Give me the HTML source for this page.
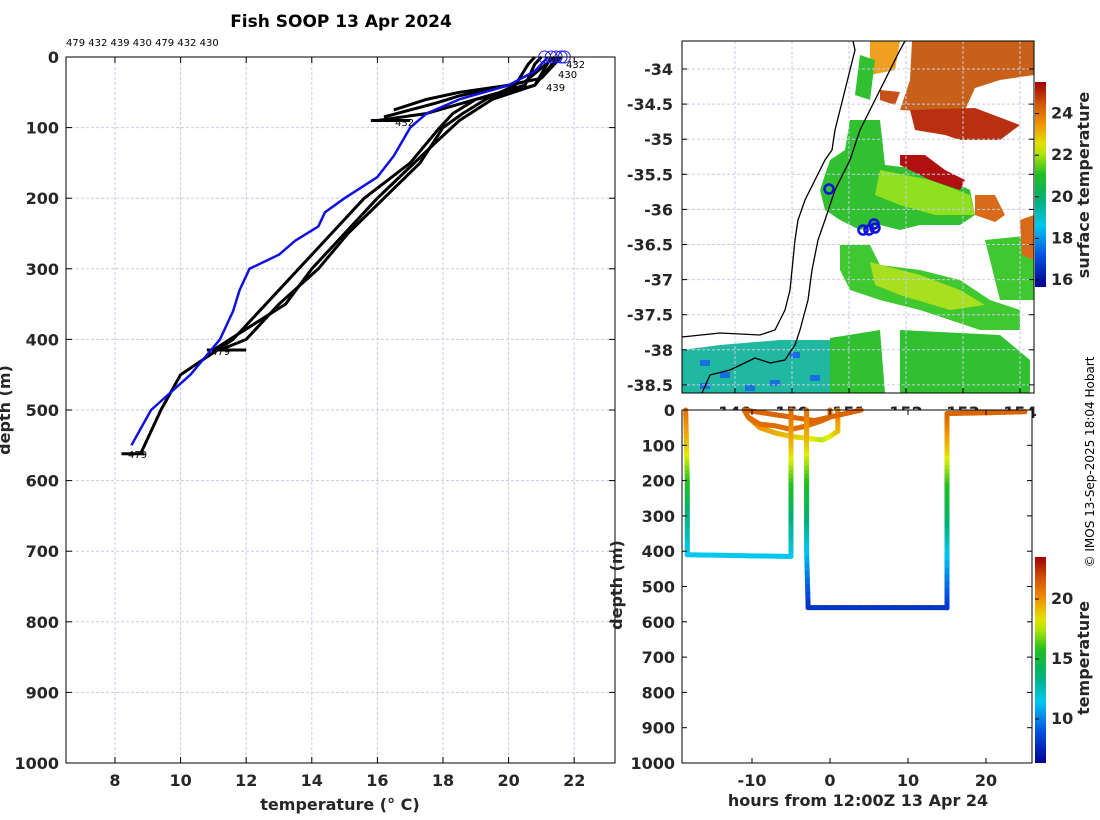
<!DOCTYPE html>
<html><head><meta charset="utf-8"><style>
body{margin:0;background:#fff}
svg{display:block;font-family:"DejaVu Sans","Liberation Sans",sans-serif}
.t{font-weight:bold;font-size:16px;fill:#262626}
.g{stroke:#c5cde6;stroke-width:1;stroke-dasharray:3,2}
</style></head><body>
<svg id="c" width="1100" height="820" viewBox="0 0 1100 820"></svg>
<script>
// ---------- data ----------
const tempTicks=[8,10,12,14,16,18,20,22];
const depthTicks=[0,100,200,300,400,500,600,700,800,900,1000];
const blueDepth=[0,20,40,60,80,100,140,170,200,220,240,260,280,300,330,360,400,450,500,550];
const blueTemp=[21.2,20.8,20,18.5,17.5,17,16.5,16,15,14.4,14.2,13.5,13,12.1,11.8,11.6,11.2,10.3,9.1,8.5];
const p1Depth=[0,10,40,60,80,100,150,200,250,300,350,400,450,500,560];
const p1Temp=[21,20.8,20.5,19,18.3,17.9,17,15.6,14.6,13.6,12.6,11.6,10,9.4,8.8];
const p2Depth=[0,40,60,90,120,200,250,300,350,400,415];
const p2Temp=[21.3,20.8,19.5,18.5,17.8,16,15,14,13.2,11.5,11];
const p3Depth=[0,40,50,60,80,90];
const p3Temp=[21.5,20.8,20,19,17.5,16];
const p4Depth=[0,30,40,50,60,75];
const p4Temp=[21.6,21,20,18.5,17.5,16.5];
const p5Depth=[0,35,45,55,65,75,85];
const p5Temp=[21.4,20.5,19.5,18.5,17.8,17,16.2];
const p6Depth=[0,10,40,60,80,100,150,200,250,300,350,400,415];
const p6Temp=[20.8,20.6,20.2,19.3,18.6,18,17.3,16.2,15.1,14.2,13,12,11.2];
const circTemp=[21.1,21.3,21.45,21.6,21.7];
const profLabels=["479","432","439","430","479","432","430"];
const hoursTicks=[-10,0,10,20];
const bDepthTicks=[0,100,200,300,400,500,600,700,800,900,1000];
const latTicks=[-34,-34.5,-35,-35.5,-36,-36.5,-37,-37.5,-38,-38.5];
const lonTicks=[149,150,151,152,153,154];
const sstTicks=[16,18,20,22,24];
const tcTicks=[10,15,20];
// track: hours, depth, temp
const trkA_h=[-18.5,-18.4,-18.3,-18.3,-18.3,-5,-5,-5,-5,-5,-5];
const trkA_d=[0,100,200,300,410,415,410,300,200,100,0];
const trkA_t=[21,19,16,13.5,11.5,11.5,11.5,13.5,16,19,21];
const trkB_h=[-3,-3,-3,-3,-3,-2.8,15,15,15,15,15,15,15,20,25];
const trkB_d=[0,100,200,300,400,560,560,560,400,300,200,100,10,8,5];
const trkB_t=[21,19,16,14,11.5,8,8,8,11.5,14,16,19,21.2,21.2,21.2];
const w1_h=[-11,-10.5,-9,-7,-5,-3,-1,0,0];
const w1_d=[0,20,40,45,55,45,30,20,0];
const w2_h=[-10.5,-9,-7,-5,-3,-1,0,1,1];
const w2_d=[20,50,65,75,80,85,75,60,0];
const w2_t=[20.5,20,19.5,19,18.5,17.5,18,19,20.5];
const w3_h=[-11,-8,-5,-2,0,2,3,4];
const w3_d=[0,10,20,30,20,10,5,0];

// ---------- helpers ----------
const S=document.getElementById('c');const NS='http://www.w3.org/2000/svg';
function el(t,a,p){const e=document.createElementNS(NS,t);for(const k in a)e.setAttribute(k,a[k]);(p||S).appendChild(e);return e;}
function txt(x,y,s,a,p){const e=el('text',Object.assign({x:x,y:y},a),p);e.textContent=s;return e;}
const CM=[[0,[0,0,143]],[0.15,[0,80,224]],[0.3,[0,200,240]],[0.42,[0,176,120]],[0.55,[32,192,32]],[0.68,[224,240,0]],[0.8,[240,144,0]],[0.9,[208,80,0]],[1,[160,0,0]]];
function jet(v){v=Math.max(0,Math.min(1,v));for(let i=0;i<CM.length-1;i++){const a=CM[i],b=CM[i+1];if(v<=b[0]){const f=(v-a[0])/(b[0]-a[0]);const c=a[1].map((x,k)=>Math.round(x+(b[1][k]-x)*f));return `rgb(${c[0]},${c[1]},${c[2]})`;}}return 'rgb(160,0,0)';}

// ---------- left profile plot ----------
const L={x0:66,x1:615,y0:57,y1:763};
const tx=t=>115+(t-8)*32.8, dy=d=>L.y0+d*(L.y1-L.y0)/1000;
let e=el('rect',{x:L.x0,y:L.y0,width:L.x1-L.x0,height:L.y1-L.y0,fill:'#fff'});

tempTicks.forEach(t=>{el('line',{x1:tx(t),x2:tx(t),y1:L.y0,y2:L.y1,class:'g'});
 el('line',{x1:tx(t),x2:tx(t),y1:L.y1,y2:L.y1-6,stroke:'#000'});el('line',{x1:tx(t),x2:tx(t),y1:L.y0,y2:L.y0+6,stroke:'#000'});
 e=txt(tx(t),786,t,{class:'t','text-anchor':'middle'});});
depthTicks.forEach(d=>{el('line',{x1:L.x0,x2:L.x1,y1:dy(d),y2:dy(d),class:'g'});
 el('line',{x1:L.x0,x2:L.x0+6,y1:dy(d),y2:dy(d),stroke:'#000'});el('line',{x1:L.x1,x2:L.x1-6,y1:dy(d),y2:dy(d),stroke:'#000'});
 e=txt(59,dy(d)+6,d,{class:'t','text-anchor':'end'});});
function prof(T,D,col,w,name){e=el('polyline',{points:T.map((t,i)=>tx(t)+','+dy(D[i])).join(' '),fill:'none',stroke:col,'stroke-width':w,'stroke-linejoin':'round'});
 }
prof(p1Temp,p1Depth,'#000',3,'profile-479');prof(p2Temp,p2Depth,'#000',3,'profile-432');
prof(p6Temp,p6Depth,'#000',3,'profile-439');prof(p3Temp,p3Depth,'#000',3,'profile-430');
prof(p4Temp,p4Depth,'#000',3,'profile-shallow-a');prof(p5Temp,p5Depth,'#000',3,'profile-shallow-b');
prof([8.2,8.9],[562,562],'#000',3,'profile-bottom-479');prof([10.8,12],[415,415],'#000',3,'profile-bottom-432');
prof([15.8,17],[90,90],'#000',3,'profile-bottom-430');
prof(blueTemp,blueDepth,'#1010e0',2.5,'profile-reference-blue');
circTemp.forEach(t=>{e=el('circle',{cx:tx(t),cy:dy(0),r:6,fill:'none',stroke:'#2020ff','stroke-width':1});});
[[211,355,'479'],[395,126,'432'],[128,458,'479'],[558,78,'430'],[546,91,'439'],[566,68,'432']].forEach(a=>txt(a[0],a[1],a[2],{'font-size':10,fill:'#000'}));
el('rect',{x:L.x0,y:L.y0,width:L.x1-L.x0,height:L.y1-L.y0,fill:'none',stroke:'#000'});
e=txt(341,27,'Fish SOOP 13 Apr 2024',{'font-size':17,'font-weight':'bold','text-anchor':'middle',fill:'#000'});
e=txt(66,46,profLabels.join(' '),{'font-size':10,fill:'#000'});
e=txt(340,810,'temperature (° C)',{class:'t','font-size':17,'text-anchor':'middle'});
e=txt(0,0,'depth (m)',{class:'t','font-size':17,'text-anchor':'middle',transform:'translate(10,410) rotate(-90)'});

// ---------- map ----------
const M={x0:682,x1:1034,y0:41,y1:393};
const ly=l=>69+(-34-l)*70.2, lx=l=>735+(l-149)*57;
const mg=el('g',{});
el('rect',{x:M.x0,y:M.y0,width:M.x1-M.x0,height:M.y1-M.y0,fill:'#fff'},mg);
const patches=[
 ['#c8601a','912,41 1034,41 1034,75 1000,80 975,88 965,110 940,112 900,110 910,80'],
 ['#f0a020','870,41 900,41 895,70 870,75'],
 ['#b83010','910,110 975,108 1020,125 1000,140 960,140 945,135 915,130'],
 ['#c8501a','880,90 900,92 895,105 880,100'],
 ['#30c030','850,120 880,120 885,165 930,170 970,190 975,215 960,225 920,225 900,230 880,225 860,230 840,220 825,210 820,190 830,160 845,150'],
 ['#90e020','880,170 930,180 970,195 975,215 935,215 900,205 875,195'],
 ['#b01010','900,155 925,155 945,170 965,180 960,190 930,180 900,165'],
 ['#d86a1a','975,195 995,195 1005,215 995,222 975,215'],
 ['#40c830','840,245 870,245 880,265 920,270 960,280 990,300 1020,310 1020,330 980,330 950,320 920,310 880,300 850,290 840,270'],
 ['#a8e020','870,262 920,275 960,290 985,305 950,310 900,295 875,285'],
 ['#40c830','985,240 1034,235 1034,300 1000,300'],
 ['#d86a1a','1020,220 1034,215 1034,260 1022,255'],
 ['#20b8a0','682,350 720,345 780,340 830,340 830,393 682,393'],
 ['#30c030','830,338 880,330 885,393 830,393'],
 ['#30c030','900,330 1000,335 1030,360 1030,393 900,393'],
 ['#30c030','860,55 875,60 870,100 855,95']];
patches.forEach(p=>{const q=el('polygon',{points:p[1],fill:p[0]},mg);});
[[700,360],[720,372],[745,385],[790,352],[810,375],[700,383],[770,380]].forEach(a=>el('rect',{x:a[0],y:a[1],width:10,height:6,fill:'#1870e0'},mg));
latTicks.forEach(l=>{el('line',{x1:M.x0,x2:M.x1,y1:ly(l),y2:ly(l),class:'g'},mg);
 el('line',{x1:M.x0,x2:M.x0+5,y1:ly(l),y2:ly(l),stroke:'#000'},mg);el('line',{x1:M.x1,x2:M.x1-5,y1:ly(l),y2:ly(l),stroke:'#000'},mg);
 e=txt(673,ly(l)+6,l,{class:'t','text-anchor':'end'});});
lonTicks.forEach(l=>{el('line',{x1:lx(l),x2:lx(l),y1:M.y0,y2:M.y1,class:'g'},mg);el('line',{x1:lx(l),x2:lx(l),y1:M.y1,y2:M.y1-5,stroke:'#000'},mg);
 e=txt(lx(l),418,l,{class:'t','text-anchor':'middle'});});
e=el('polyline',{points:'853,41 855,50 850,70 845,90 840,110 835,130 832,150 825,160 815,180 805,200 798,220 795,240 792,270 790,290 785,310 780,320 775,330 760,335 720,333 682,337',fill:'none',stroke:'#000','stroke-width':1.3});
e=el('polyline',{points:'702,393 710,375 730,370 755,358 770,363 785,360 795,345 800,330 808,300 812,270 818,240 825,220 835,190 850,160 860,130 880,90 900,50 905,41',fill:'none',stroke:'#000','stroke-width':1.3});
[[829,189],[863,230],[869,230],[875,228],[874,224]].forEach(a=>{e=el('circle',{cx:a[0],cy:a[1],r:4.5,fill:'none',stroke:'#1010e0','stroke-width':2.5});});
el('rect',{x:M.x0,y:M.y0,width:M.x1-M.x0,height:M.y1-M.y0,fill:'none',stroke:'#000'});
// colorbars
const defs=el('defs',{});
function grad(id){const g=el('linearGradient',{id:id,x1:0,y1:1,x2:0,y2:0},defs);for(let i=0;i<=20;i++)el('stop',{offset:i/20,'stop-color':jet(i/20)},g);}
grad('jg');
e=el('rect',{x:1035,y:82,width:11,height:205,fill:'url(#jg)'});
const sy=v=>280-(v-16)*20.8;
sstTicks.forEach(v=>{el('line',{x1:1035,x2:1039,y1:sy(v),y2:sy(v),stroke:'#000'});txt(1051,sy(v)+5,v,{class:'t','font-size':14});});
e=txt(0,0,'surface temperature',{class:'t','font-size':15,'text-anchor':'middle',transform:'translate(1089,185) rotate(-90)'});

// ---------- bottom track plot ----------
const B={x0:682,x1:1032,y0:410,y1:763};
const hx=h=>830+h*7.8, by=d=>B.y0+d*(B.y1-B.y0)/1000;
e=el('rect',{x:B.x0,y:B.y0,width:B.x1-B.x0,height:B.y1-B.y0,fill:'#fff'});
const cv=t=>jet((t-6.3)/17.2);
function track(H,D,T,name){const g=el('g',{});
 for(let i=0;i<H.length-1;i++){const n=8;for(let k=0;k<n;k++){const a=k/n,b=(k+1)/n;
  el('line',{x1:hx(H[i]+(H[i+1]-H[i])*a),y1:by(D[i]+(D[i+1]-D[i])*a),x2:hx(H[i]+(H[i+1]-H[i])*b),y2:by(D[i]+(D[i+1]-D[i])*b),stroke:cv(T[i]+(T[i+1]-T[i])*(a+b)/2),'stroke-width':5,'stroke-linecap':'round'},g);}}}
track(w2_h,w2_d,w2_t,'track-near-surface-b');
track(w1_h,w1_d,w1_h.map(()=>21),'track-near-surface-a');
track(w3_h,w3_d,w3_h.map(()=>21.2),'track-near-surface-c');
track(trkA_h,trkA_d,trkA_t,'track-drop-1');
track(trkB_h,trkB_d,trkB_t,'track-drop-2');
hoursTicks.forEach(h=>{el('line',{x1:hx(h),x2:hx(h),y1:B.y1,y2:B.y1-5,stroke:'#000'});el('line',{x1:hx(h),x2:hx(h),y1:B.y0,y2:B.y0+5,stroke:'#000'});
 e=txt(hx(h),786,h,{class:'t','text-anchor':'middle'});});
bDepthTicks.forEach(d=>{el('line',{x1:B.x0,x2:B.x0+5,y1:by(d),y2:by(d),stroke:'#000'});el('line',{x1:B.x1,x2:B.x1-5,y1:by(d),y2:by(d),stroke:'#000'});
 e=txt(675,by(d)+6,d,{class:'t','text-anchor':'end'});});
el('rect',{x:B.x0,y:B.y0,width:B.x1-B.x0,height:B.y1-B.y0,fill:'none',stroke:'#000'});
e=txt(858,806,'hours from 12:00Z 13 Apr 24',{class:'t','font-size':17,'text-anchor':'middle'});
e=txt(0,0,'depth (m)',{class:'t','font-size':17,'text-anchor':'middle',transform:'translate(622,585) rotate(-90)'});
e=el('rect',{x:1035,y:557,width:11,height:206,fill:'url(#jg)'});
const ty=v=>719-(v-10)*12;
tcTicks.forEach(v=>{el('line',{x1:1035,x2:1039,y1:ty(v),y2:ty(v),stroke:'#000'});txt(1051,ty(v)+5,v,{class:'t','font-size':14});});
e=txt(0,0,'temperature',{class:'t','font-size':15,'text-anchor':'middle',transform:'translate(1089,658) rotate(-90)'});
e=txt(0,0,'© IMOS 13-Sep-2025 18:04 Hobart',{'font-size':12,fill:'#000','text-anchor':'middle',transform:'translate(1094,462) rotate(-90)'});
</script>
</body></html>
